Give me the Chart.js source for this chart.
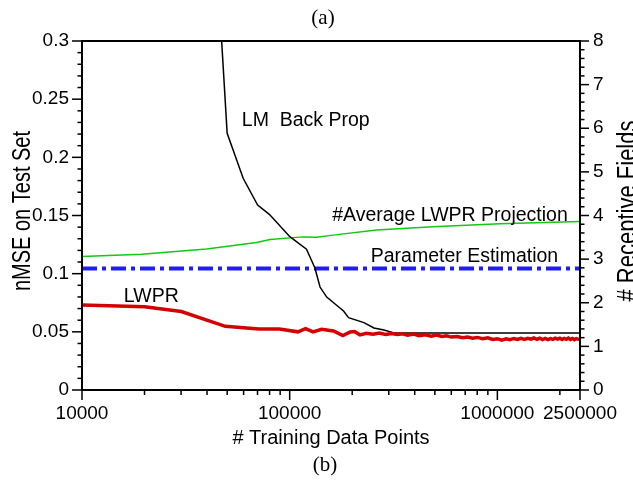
<!DOCTYPE html>
<html>
<head>
<meta charset="utf-8">
<script src="https://cdn.jsdelivr.net/npm/chart.js@4.4.1/dist/chart.umd.min.js"></script>
<style>
  html, body { margin: 0; padding: 0; background: #fff; }
  canvas { display: block; }
</style>
</head>
<body>
<canvas id="grafica" width="633" height="484"></canvas>
<script>
// LM Back Prop (eje izquierdo, nMSE)
const lmX = [47000, 50000, 59700, 70100, 79800, 100200, 120500, 132300, 140000, 150800, 174500, 181700, 192100, 227700, 254500, 284400, 317700, 2500000];
const lmY = [0.301, 0.2207, 0.182, 0.159, 0.151, 0.1318, 0.121, 0.1049, 0.0885, 0.0799, 0.0705, 0.0679, 0.0622, 0.0579, 0.0533, 0.0516, 0.049, 0.049];

// LWPR (eje izquierdo, nMSE)
const lwprX = [10000, 20000, 30100, 49000, 71100, 89300, 109600, 119200, 129500, 142500, 162500, 180400, 195800,
    205000, 218000, 234000, 252000, 270000, 290000, 310000, 330000, 350000, 370000,
    395000, 420000, 450000, 480000, 510000, 540000, 570000, 600000, 640000, 680000,
    720000, 760000, 800000, 850000, 900000, 950000, 1000000, 1050000, 1100000, 1150000,
    1200000, 1250000, 1300000, 1350000, 1400000, 1450000, 1500000, 1550000, 1600000, 1650000,
    1700000, 1750000, 1800000, 1850000, 1900000, 1950000, 2000000, 2050000, 2100000, 2150000,
    2200000, 2250000, 2300000, 2350000, 2400000, 2450000, 2500000];
const lwprY = [0.0731, 0.0715, 0.0675, 0.0547, 0.0524, 0.0524, 0.0500, 0.0527, 0.0499, 0.0521, 0.0507, 0.0468, 0.0499,
    0.0503, 0.0474, 0.0488, 0.0479, 0.0490, 0.0478, 0.0486, 0.0477, 0.0484, 0.0472,
    0.0481, 0.0466, 0.0474, 0.0463, 0.0472, 0.0460, 0.0466, 0.0455, 0.0460, 0.0450,
    0.0456, 0.0446, 0.0452, 0.0440, 0.0448, 0.0434, 0.0441, 0.0429, 0.0440, 0.0432,
    0.0443, 0.0434, 0.0445, 0.0435, 0.0444, 0.0437, 0.0447, 0.0436, 0.0446, 0.0434,
    0.0443, 0.0433, 0.0442, 0.0435, 0.0446, 0.0437, 0.0445, 0.0434, 0.0443, 0.0436,
    0.0447, 0.0435, 0.0443, 0.0433, 0.0442, 0.0436, 0.0438];

// Parameter Estimation (eje izquierdo)
const paramX = [10000, 2500000];
const paramY = [0.1045, 0.1045];

// #Average LWPR Projection (eje derecho, receptive fields)
const projX = [10000, 19400, 39800, 69300, 80400, 115800, 135000, 161500, 262300, 489500, 1028000, 2500000];
const projY = [3.06, 3.11, 3.23, 3.38, 3.45, 3.51, 3.50, 3.55, 3.67, 3.74, 3.81, 3.86];

// ticks
const xTicks = [10000, 100000, 1000000, 2500000];
const xMinor = [20000, 30000, 40000, 50000, 60000, 70000, 80000, 90000,
    200000, 300000, 400000, 500000, 600000, 700000, 800000, 900000, 2000000];
const yTicks = [0, 0.05, 0.1, 0.15, 0.2, 0.25, 0.3];
const yLabels = ['0', '0.05', '0.1', '0.15', '0.2', '0.25', '0.3'];
const y2Ticks = [0, 1, 2, 3, 4, 5, 6, 7, 8];

const pares = (xs, ys) => xs.map((x, i) => ({ x: x, y: ys[i] }));

document.addEventListener('DOMContentLoaded', () => {
    inicializarGrafica();
});

// marco, ticks y textos
const marco = {
    id: 'marco',
    afterDraw(chart) {
        const { ctx, chartArea: a, scales } = chart;
        const linea = (x1, y1, x2, y2) => {
            ctx.beginPath(); ctx.moveTo(x1, y1); ctx.lineTo(x2, y2); ctx.stroke();
        };
        ctx.save();
        ctx.strokeStyle = '#000';
        ctx.lineWidth = 1.5;

        // eje izquierdo
        for (let i = 0; i <= 30; i++) {
            const y = scales.y.getPixelForValue(i / 100);
            linea(a.left - (i % 5 === 0 ? 10 : 4.5), y, a.left, y);
        }
        // eje derecho
        for (let i = 0; i <= 40; i++) {
            const y = scales.y2.getPixelForValue(i / 5);
            linea(a.right, y, a.right + (i % 5 === 0 ? 9 : 4.5), y);
        }
        // eje x
        xTicks.forEach(v => {
            const x = scales.x.getPixelForValue(v);
            linea(x, a.bottom, x, a.bottom + 10);
        });
        xMinor.forEach(v => {
            const x = scales.x.getPixelForValue(v);
            linea(x, a.bottom, x, a.bottom + 5);
        });

        ctx.lineWidth = 2;
        ctx.strokeRect(a.left, a.top, a.right - a.left, a.bottom - a.top);

        // etiquetas dentro de la grafica
        ctx.fillStyle = '#000';
        ctx.font = '19.5px "Liberation Sans", Arial, sans-serif';
        ctx.textBaseline = 'alphabetic';
        const texto = (t, xv, yv, align) => {
            ctx.textAlign = align;
            ctx.fillText(t, scales.x.getPixelForValue(xv), scales.y.getPixelForValue(yv));
        };
        texto('LM  Back Prop', 58800, 0.227, 'left');
        texto('#Average LWPR Projection', 2183000, 0.1453, 'right');
        texto('Parameter Estimation', 1963000, 0.1103, 'right');
        texto('LWPR', 15900, 0.0753, 'left');

        // titulos verticales
        const vertical = (t, x, y, size) => {
            ctx.save();
            ctx.translate(x, y);
            ctx.rotate(-Math.PI / 2);
            ctx.scale(1, 1.28);
            ctx.font = size + 'px "Liberation Sans", Arial, sans-serif';
            ctx.textAlign = 'center';
            ctx.textBaseline = 'alphabetic';
            ctx.fillText(t, 0, 0);
            ctx.restore();
        };
        vertical('nMSE on Test Set', 30, 211, 20);
        vertical('# Receptive Fields', 636, 211, 22);

        // (a) y (b)
        ctx.font = '21px "Liberation Serif", "Times New Roman", serif';
        ctx.textAlign = 'center';
        ctx.textBaseline = 'middle';
        ctx.fillText('(a)', 323, 18);
        ctx.fillText('(b)', 325, 465);
        ctx.restore();
    }
};

function inicializarGrafica() {
    const canvas = document.getElementById('grafica');
    if (!canvas) return;
    if (typeof Chart === 'undefined') {
        console.error('Chart.js no está disponible');
        return;
    }

    Chart.defaults.font.family = '"Liberation Sans", Arial, sans-serif';
    Chart.defaults.color = '#000';

    new Chart(canvas, {
        type: 'line',
        data: {
            datasets: [
                { label: 'LWPR', data: pares(lwprX, lwprY), borderColor: '#d40000', borderWidth: 3.5, yAxisID: 'y' },
                { label: 'LM Back Prop', data: pares(lmX, lmY), borderColor: '#000', borderWidth: 1.5, yAxisID: 'y' },
                { label: 'Parameter Estimation', data: pares(paramX, paramY), borderColor: '#1e1ef0', borderWidth: 4,
                  borderDash: [15, 5, 4, 5], yAxisID: 'y' },
                { label: '#Average LWPR Projection', data: pares(projX, projY), borderColor: '#12c812', borderWidth: 1.5, yAxisID: 'y2' }
            ]
        },
        options: {
            responsive: false,
            animation: false,
            layout: { padding: { top: 41, left: 0, right: 0, bottom: 0 } },
            elements: { point: { radius: 0 }, line: { tension: 0, borderCapStyle: 'butt' } },
            plugins: { legend: { display: false }, tooltip: { enabled: false } },
            scales: {
                x: {
                    type: 'logarithmic',
                    position: 'bottom',
                    min: 10000,
                    max: 2500000,
                    afterBuildTicks: s => { s.ticks = xTicks.map(v => ({ value: v })); },
                    afterFit: s => { s.height = 94; },
                    grid: { display: false, drawTicks: false },
                    border: { display: false },
                    ticks: { autoSkip: false, maxRotation: 0, padding: 12, font: { size: 19 },
                             callback: v => String(v) },
                    title: { display: true, text: '# Training Data Points', font: { size: 20 },
                             padding: { top: 0, bottom: 34 } }
                },
                y: {
                    position: 'left',
                    min: 0,
                    max: 0.3,
                    afterBuildTicks: s => { s.ticks = yTicks.map(v => ({ value: v })); },
                    afterFit: s => { s.width = 82; },
                    grid: { display: false, drawTicks: false },
                    border: { display: false },
                    ticks: { padding: 13, font: { size: 19 },
                             callback: (v, i) => yLabels[i] }
                },
                y2: {
                    position: 'right',
                    min: 0,
                    max: 8,
                    afterBuildTicks: s => { s.ticks = y2Ticks.map(v => ({ value: v })); },
                    afterFit: s => { s.width = 53; },
                    grid: { display: false, drawTicks: false },
                    border: { display: false },
                    ticks: { padding: 13, font: { size: 19 } }
                }
            }
        },
        plugins: [marco]
    });
}
</script>
</body>
</html>
